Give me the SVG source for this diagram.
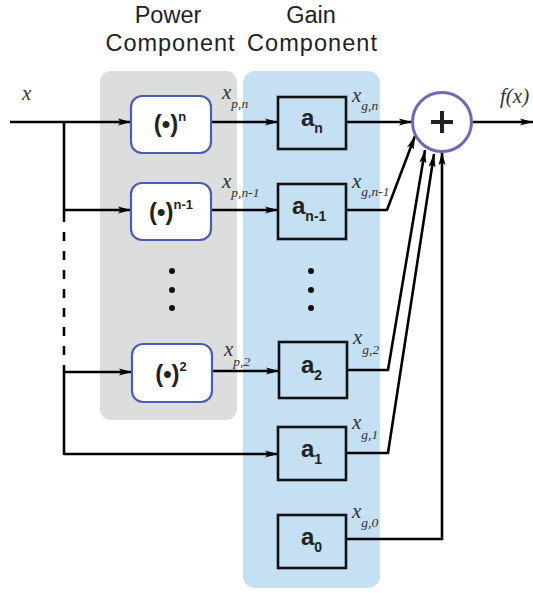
<svg xmlns="http://www.w3.org/2000/svg" width="533" height="593" viewBox="0 0 533 593">
<defs>
<marker id="ah" markerUnits="userSpaceOnUse" markerWidth="14" markerHeight="10" refX="13" refY="4" orient="auto">
<path d="M0,0.5 L13,4 L0,7.5 L2.5,4 z" fill="#000"/>
</marker>
<style>
.hdr{font-family:"Liberation Sans",Arial,sans-serif;font-size:23.5px;fill:#222;text-anchor:middle}
.var{font-family:"Liberation Serif","Times New Roman",serif;font-style:italic;font-size:21px;fill:#333}
.sub{font-size:13.5px}
.pw{fill:#fff;stroke:#4a5db0;stroke-width:2.2}
.gn{fill:none;stroke:#111;stroke-width:2.6}
.bl{font-family:"Liberation Sans",Arial,sans-serif;font-weight:bold;fill:#222}
.pl{text-anchor:middle;font-size:24px}
.ln{fill:none;stroke:#000;stroke-width:2.6}
.dot{fill:#111}
</style>
</defs>
<rect width="533" height="593" fill="#fff"/>
<g id="panels">
<rect x="100" y="71" width="137" height="349" rx="11" fill="#dcdddd"/>
<rect x="243" y="71" width="137" height="517" rx="12" fill="#c5dff3"/>
</g>
<g id="headers">
<text class="hdr" x="168" y="23">Power</text>
<text class="hdr" x="170" y="51" textLength="129">Component</text>
<text class="hdr" x="311" y="23">Gain</text>
<text class="hdr" x="312" y="51" textLength="130">Component</text>
</g>
<g id="connectors">
<path class="ln" d="M10,122 H131" marker-end="url(#ah)"/>
<path class="ln" d="M64,122 V216"/>
<path class="ln" d="M64,216 V222"/>
<path class="ln" d="M64,232 V356" stroke-dasharray="9,10"/>
<path class="ln" d="M64,365 V455"/>
<path class="ln" d="M64,210 H131" marker-end="url(#ah)"/>
<path class="ln" d="M64,372 H132" marker-end="url(#ah)"/>
<path class="ln" d="M64,454 H278" marker-end="url(#ah)"/>
<path class="ln" d="M211,122 H278" marker-end="url(#ah)"/>
<path class="ln" d="M211,210 H278" marker-end="url(#ah)"/>
<path class="ln" d="M212,371 H279" marker-end="url(#ah)"/>
<path class="ln" d="M346,122 H412" marker-end="url(#ah)"/>
<path class="ln" d="M346,210 H387 L415,136" marker-end="url(#ah)"/>
<path class="ln" d="M347,370 H388 L425,150" marker-end="url(#ah)"/>
<path class="ln" d="M346,453 H388 L434,154" marker-end="url(#ah)"/>
<path class="ln" d="M346,539 H442 V152" marker-end="url(#ah)"/>
<path class="ln" d="M472,122 H533" marker-end="url(#ah)"/>
</g>
<g id="pow_n">
<rect class="pw" x="131" y="96" width="80" height="57" rx="11"/>
<text class="bl pl" x="170" y="132">(•)<tspan font-size="13" dy="-11">n</tspan></text>
</g>
<g id="pow_n1">
<rect class="pw" x="131" y="183" width="80" height="57" rx="11"/>
<text class="bl pl" x="171" y="220">(•)<tspan font-size="13" dy="-11">n-1</tspan></text>
</g>
<g id="pow_2">
<rect class="pw" x="132" y="344" width="80" height="58" rx="11"/>
<text class="bl pl" x="171" y="382">(•)<tspan font-size="13" dy="-11">2</tspan></text>
</g>
<g id="dots">
<circle class="dot" cx="172" cy="271" r="3"/>
<circle class="dot" cx="172" cy="290" r="3"/>
<circle class="dot" cx="172" cy="308" r="3"/>
<circle class="dot" cx="311" cy="271" r="3"/>
<circle class="dot" cx="311" cy="290" r="3"/>
<circle class="dot" cx="311" cy="308" r="3"/>
</g>
<g id="gain_n">
<rect class="gn" x="278" y="97" width="68" height="52"/>
<text class="bl" x="301" y="126" font-size="24">a<tspan font-size="14" dy="7">n</tspan></text>
</g>
<g id="gain_n1">
<rect class="gn" x="278" y="184" width="68" height="55"/>
<text class="bl" x="292" y="214" font-size="24">a<tspan font-size="14" dy="7">n-1</tspan></text>
</g>
<g id="gain_2">
<rect class="gn" x="279" y="342" width="68" height="56"/>
<text class="bl" x="301" y="373" font-size="24">a<tspan font-size="14" dy="7">2</tspan></text>
</g>
<g id="gain_1">
<rect class="gn" x="278" y="427" width="68" height="53"/>
<text class="bl" x="301" y="457" font-size="24">a<tspan font-size="14" dy="7">1</tspan></text>
</g>
<g id="gain_0">
<rect class="gn" x="278" y="515" width="68" height="53"/>
<text class="bl" x="301" y="545" font-size="24">a<tspan font-size="14" dy="7">0</tspan></text>
</g>
<g id="sum">
<circle cx="442" cy="122" r="29.5" fill="#fff" stroke="#7466b5" stroke-width="3"/>
<path d="M442,111 V133 M431,122 H453" stroke="#222" stroke-width="4"/>
</g>
<g id="labels">
<text class="var" x="22" y="100">x</text>
<text class="var" x="500" y="103">f(x)</text>
<text class="var" x="222" y="99">x<tspan class="sub" dy="9">p,n</tspan></text>
<text class="var" x="222" y="188">x<tspan class="sub" dy="9">p,n-1</tspan></text>
<text class="var" x="224" y="356">x<tspan class="sub" dy="10">p,2</tspan></text>
<text class="var" x="352" y="102">x<tspan class="sub" dy="8">g,n</tspan></text>
<text class="var" x="352" y="188">x<tspan class="sub" dy="8">g,n-1</tspan></text>
<text class="var" x="353" y="344">x<tspan class="sub" dy="10">g,2</tspan></text>
<text class="var" x="352" y="429">x<tspan class="sub" dy="10">g,1</tspan></text>
<text class="var" x="352" y="518">x<tspan class="sub" dy="9">g,0</tspan></text>
</g>
</svg>
